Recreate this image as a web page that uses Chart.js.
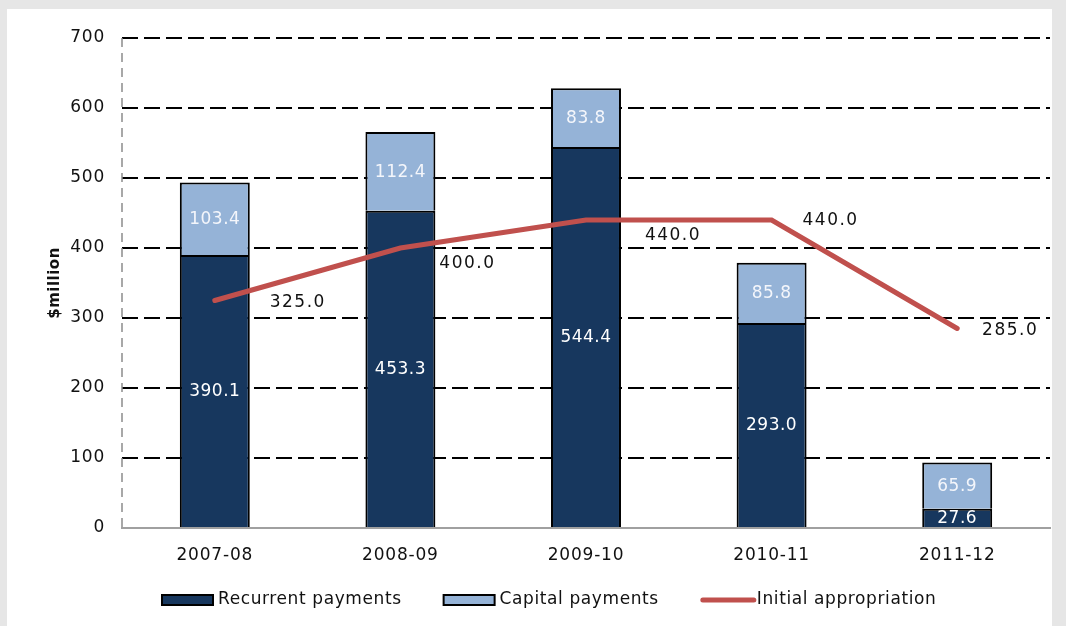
<!DOCTYPE html>
<html>
<head>
<meta charset="utf-8">
<script src="https://cdn.jsdelivr.net/npm/chart.js@4.4.1/dist/chart.umd.min.js"></script>
<style>
  html, body { margin: 0; padding: 0; background: #e6e6e6; }
  #box { position: absolute; left: 7px; top: 9px; width: 1045px; height: 617px; background: #fff; }
  #myChart { display: block; }
</style>
</head>
<body>
<div id="box"><canvas id="myChart" width="1045" height="617"></canvas></div>
<script>
// chart data
const years = ['2007-08', '2008-09', '2009-10', '2010-11', '2011-12']
const recurrent = [390.1, 453.3, 544.4, 293.0, 27.6]
const capital = [103.4, 112.4, 83.8, 85.8, 65.9]
const appropriation = [325.0, 400.0, 440.0, 440.0, 285.0]
const yTicks = [0, 100, 200, 300, 400, 500, 600, 700]

const fam = 'DejaVu Sans, Verdana, sans-serif'
const tickFont = { family: fam, size: 17 }

// where the line labels sit relative to their point
const lineLabelShift = [[83, 2], [67, 16], [87, 16], [59, 1], [53, 2]]

const labelsPlugin = {
  id: 'labels',
  beforeDraw(chart) {
    chart.ctx.letterSpacing = '0.8px'
  },
  afterDatasetsDraw(chart) {
    const ctx = chart.ctx
    ctx.save()
    ctx.font = '17px ' + fam
    ctx.textAlign = 'center'
    ctx.textBaseline = 'middle'
    // values inside the bars
    ctx.letterSpacing = '0.5px'
    ;[0, 1].forEach(di => {
      const meta = chart.getDatasetMeta(di)
      ctx.fillStyle = di == 0 ? '#ffffff' : '#f4f6fb'
      meta.data.forEach((bar, i) => {
        const v = chart.data.datasets[di].data[i]
        const mid = (bar.y + bar.base) / 2
        ctx.fillText(v.toFixed(1), bar.x, mid + 1)
      })
    })
    // values beside the line
    ctx.letterSpacing = '1.5px'
    const lm = chart.getDatasetMeta(2)
    ctx.fillStyle = '#111'
    lm.data.forEach((pt, i) => {
      const v = chart.data.datasets[2].data[i]
      ctx.fillText(v.toFixed(1), pt.x + lineLabelShift[i][0], pt.y + lineLabelShift[i][1])
    })
    ctx.restore()
  },
  afterDraw(chart) {
    const ctx = chart.ctx
    const area = chart.chartArea
    ctx.save()
    // dashed left axis
    ctx.strokeStyle = '#8c8c8c'
    ctx.lineWidth = 1.5
    ctx.setLineDash([9, 6])
    ctx.beginPath()
    ctx.moveTo(area.left, area.top)
    ctx.lineTo(area.left, area.bottom)
    ctx.stroke()
    ctx.setLineDash([])

    // legend
    let x = 155
    const y = 591
    ctx.font = '17px ' + fam
    ctx.letterSpacing = '0.6px'
    ctx.textBaseline = 'middle'
    ctx.textAlign = 'left'
    chart.data.datasets.forEach((ds, i) => {
      if (ds.type == 'bar') {
        ctx.fillStyle = ds.backgroundColor
        ctx.fillRect(x, y - 5, 51, 10)
        ctx.strokeStyle = '#000'
        ctx.lineWidth = 2
        ctx.strokeRect(x, y - 5, 51, 10)
      } else {
        ctx.strokeStyle = ds.borderColor
        ctx.lineWidth = 5
        ctx.lineCap = 'round'
        ctx.beginPath()
        ctx.moveTo(x + 2, y)
        ctx.lineTo(x + 53, y)
        ctx.stroke()
      }
      x += 56
      ctx.fillStyle = '#111'
      ctx.fillText(ds.label, x, y)
      x += ctx.measureText(ds.label).width + 42
    })

    // axis title
    ctx.translate(48, (area.top + area.bottom) / 2)
    ctx.rotate(-Math.PI / 2)
    ctx.font = 'bold 15px ' + fam
    ctx.letterSpacing = '0.5px'
    ctx.fillStyle = '#111'
    ctx.textAlign = 'center'
    ctx.fillText('$million', 0, 0)
    ctx.restore()
  }
}

const chart = new Chart(
  document.getElementById('myChart'),
  {
    data: {
      labels: years,
      datasets: [
        {
          type: 'bar',
          label: 'Recurrent payments',
          data: recurrent,
          backgroundColor: '#17375e',
          borderColor: '#000',
          borderWidth: 2,
          stack: 's',
          order: 2,
          barPercentage: 0.377,
          categoryPercentage: 1
        },
        {
          type: 'bar',
          label: 'Capital payments',
          data: capital,
          backgroundColor: '#95b3d7',
          borderColor: '#000',
          borderWidth: 2,
          stack: 's',
          order: 2,
          barPercentage: 0.377,
          categoryPercentage: 1
        },
        {
          type: 'line',
          label: 'Initial appropriation',
          data: appropriation,
          borderColor: '#c0504d',
          backgroundColor: '#c0504d',
          borderWidth: 5,
          pointRadius: 0,
          tension: 0,
          order: 1,
          borderCapStyle: 'round'
        }
      ]
    },
    options: {
      responsive: false,
      animation: false,
      layout: { padding: { top: 29, right: 2, left: 0, bottom: 0 } },
      plugins: {
        tooltip: { enabled: false },
        legend: { display: false }
      },
      scales: {
        x: {
          stacked: true,
          grid: { display: false },
          border: { display: true, color: '#a0a0a0', width: 2 },
          ticks: { color: '#111', font: tickFont, padding: 9 },
          afterFit(scale) { scale.height = 98 }
        },
        y: {
          stacked: true,
          min: 0,
          max: 700,
          afterBuildTicks(scale) { scale.ticks = yTicks.map(v => ({ value: v })) },
          grid: {
            color: ctx => ctx.tick && ctx.tick.value == 0 ? 'rgba(0,0,0,0)' : '#000',
            lineWidth: 2,
            drawTicks: false
          },
          border: { display: false, dash: [16, 6] },
          ticks: { color: '#111', font: tickFont, padding: 17 },
          afterFit(scale) { scale.width = 115 }
        }
      }
    },
    plugins: [labelsPlugin]
  }
)
</script>
</body>
</html>
